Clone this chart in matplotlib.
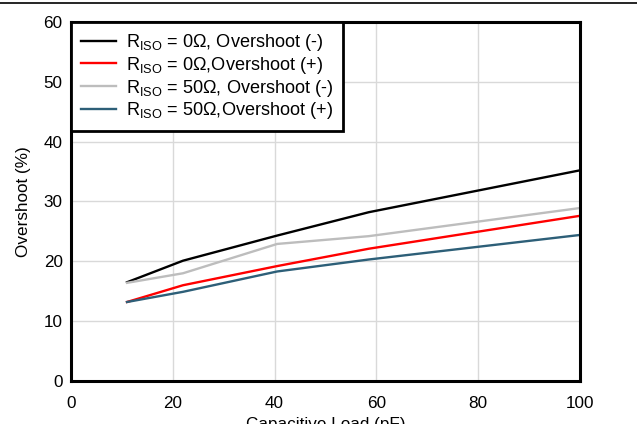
import matplotlib
matplotlib.use("Agg")
import matplotlib.pyplot as plt
from matplotlib.lines import Line2D

plt.rcParams['font.family'] = ['Liberation Sans', 'DejaVu Sans']
plt.rcParams['mathtext.fontset'] = 'custom'
plt.rcParams['mathtext.rm'] = 'Liberation Sans'

# capacitive load (pF)
load = [11, 22, 40.5, 58.5, 100]
r0_neg = [16.5, 20.1, 24.3, 28.2, 35.2]
r0_pos = [13.2, 16.0, 19.2, 22.1, 27.6]
r50_neg = [16.4, 18.0, 22.9, 24.2, 28.9]
r50_pos = [13.2, 14.9, 18.3, 20.3, 24.4]

labels = [r"R$_\mathregular{ISO}$ = 0Ω, Overshoot (-)",
          r"R$_\mathregular{ISO}$ = 0Ω,Overshoot (+)",
          r"R$_\mathregular{ISO}$ = 50Ω, Overshoot (-)",
          r"R$_\mathregular{ISO}$ = 50Ω,Overshoot (+)"]
colors = ["#000000", "#ff0000", "#bdbdbd", "#2d5f78"]

fig = plt.figure(figsize=(6.37, 4.24), dpi=100)
ax = fig.add_axes([0.1115, 0.1014, 0.799, 0.847])

for ys, c, lab in zip([r0_neg, r0_pos, r50_neg, r50_pos], colors, labels):
    ax.plot(load, ys, color=c, lw=1.7, label=lab)

ax.set_xlim(0, 100)
ax.set_ylim(0, 60)
ax.set_xticks(range(0, 101, 20))
ax.set_yticks(range(0, 61, 10))
ax.grid(True, color="#d9d9d9", lw=1)
ax.set_axisbelow(True)
ax.tick_params(length=0, labelsize=12.3)
ax.tick_params(axis="x", pad=11)
ax.tick_params(axis="y", pad=6)
for s in ax.spines.values():
    s.set_linewidth(2.2)

ax.set_xlabel("Capacitive Load (pF)", fontsize=12.3, labelpad=4)
ax.set_ylabel("Overshoot (%)", fontsize=12.3, labelpad=9)

leg = ax.legend(loc="upper left", fontsize=13.1, frameon=True, fancybox=False,
                borderaxespad=0, handlelength=1.9, handletextpad=0.55,
                labelspacing=0.1, borderpad=0.55)
leg.get_frame().set_edgecolor("black")
leg.get_frame().set_linewidth(2)
leg.get_frame().set_alpha(1)

# top rule line
fig.add_artist(Line2D([0, 1], [0.994, 0.994], color="black", lw=1.2,
                      transform=fig.transFigure))

fig.savefig("out.png", dpi=100)
